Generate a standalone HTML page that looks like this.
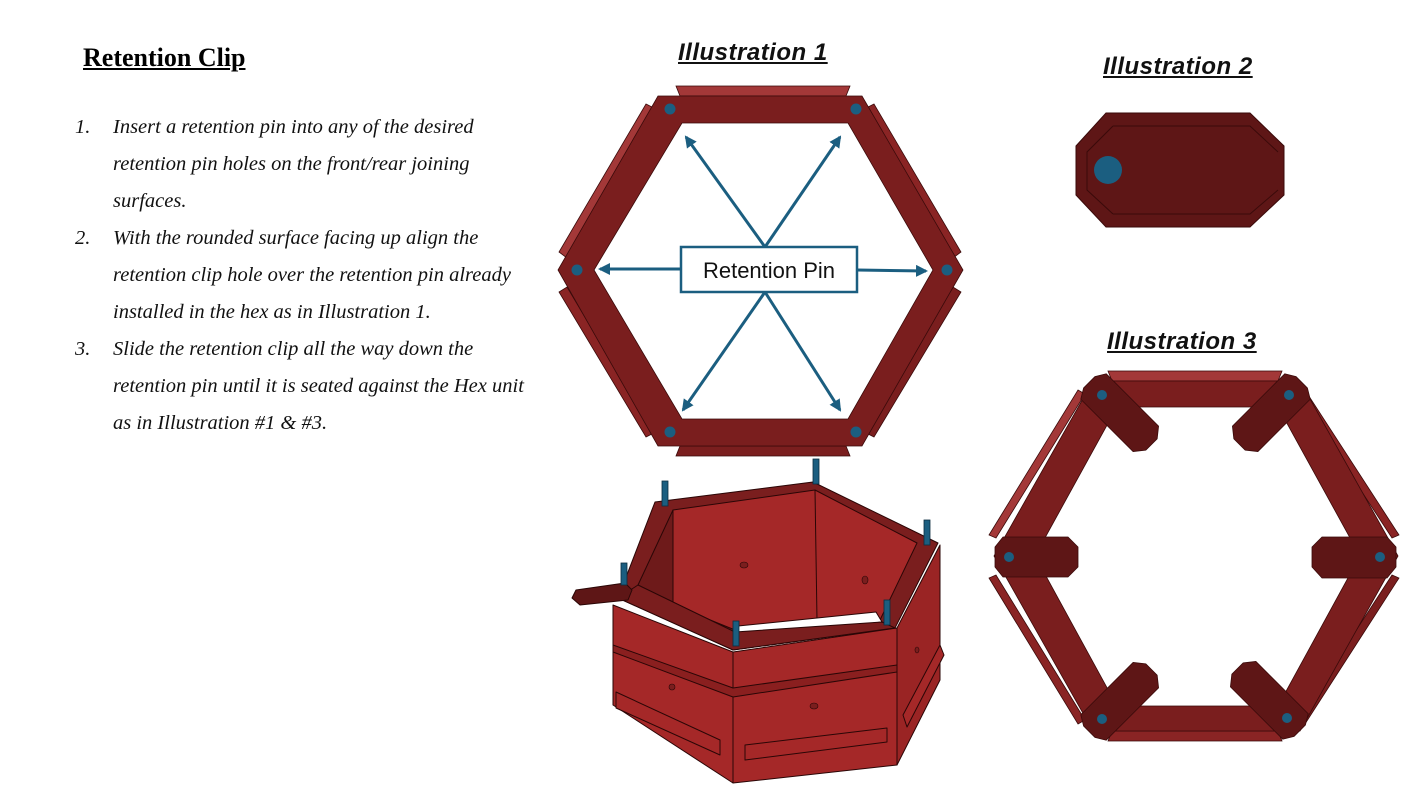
<!DOCTYPE html>
<html><head><meta charset="utf-8"><style>
html,body{margin:0;padding:0;background:#fff;}
body{width:1408px;height:791px;position:relative;overflow:hidden;}
.t{position:absolute;font-family:"Liberation Serif",serif;font-style:italic;font-size:20.5px;color:#111;white-space:nowrap;}
.h{position:absolute;font-family:"Liberation Sans",sans-serif;font-weight:bold;font-style:italic;text-decoration:underline;font-size:24px;letter-spacing:0.5px;color:#111;white-space:nowrap;}
</style></head><body>
<div style="position:absolute;left:83px;top:43px;font-family:'Liberation Serif',serif;font-weight:bold;font-size:26px;text-decoration:underline;">Retention Clip</div>
<div class="t" style="left:75px;top:116px">1.</div><div class="t" style="left:113px;top:116px">Insert a retention pin into any of the desired</div>
<div class="t" style="left:113px;top:153px">retention pin holes on the front/rear joining</div>
<div class="t" style="left:113px;top:190px">surfaces.</div>
<div class="t" style="left:75px;top:227px">2.</div><div class="t" style="left:113px;top:227px">With the rounded surface facing up align the</div>
<div class="t" style="left:113px;top:264px">retention clip hole over the retention pin already</div>
<div class="t" style="left:113px;top:301px">installed in the hex as in Illustration 1.</div>
<div class="t" style="left:75px;top:338px">3.</div><div class="t" style="left:113px;top:338px">Slide the retention clip all the way down the</div>
<div class="t" style="left:113px;top:375px">retention pin until it is seated against the Hex unit</div>
<div class="t" style="left:113px;top:412px">as in Illustration #1 &amp;  #3.</div>
<div class="h" style="left:678px;top:39px">Illustration 1</div>
<div class="h" style="left:1103px;top:53px">Illustration 2</div>
<div class="h" style="left:1107px;top:328px">Illustration 3</div>

<svg width="1408" height="791" style="position:absolute;left:0;top:0">
<defs>
<marker id="a2" markerWidth="12" markerHeight="12" refX="10" refY="6" orient="auto" markerUnits="userSpaceOnUse"><path d="M0,0 L12,6 L0,12 Z" fill="#1b5e80"/></marker></defs>
<!-- Illustration 1 -->
<g stroke="#3a0a0a" stroke-width="0.8">
<polygon points="676,86 850,86 846,96 680,96" fill="#a33838"/>
<polygon points="676,456 850,456 846,446 680,446" fill="#7a1e1e"/>
<polygon points="646,104 654,108 567,258 559,252" fill="#a33838"/>
<polygon points="874,104 866,108 953,258 961,252" fill="#8a2424"/>
<polygon points="646,437 654,433 567,287 559,292" fill="#8a2424"/>
<polygon points="874,437 866,433 953,287 961,292" fill="#7a1e1e"/>
<path fill-rule="evenodd" fill="#7a1e1e" d="M658,96 L862,96 L963,270 L862,446 L658,446 L558,270 Z M682,123 L848,123 L933,270 L848,419 L682,419 L594,270 Z"/>
</g>
<g fill="#1b5e80"><circle cx="670" cy="109" r="5.5"/><circle cx="856" cy="109" r="5.5"/><circle cx="577" cy="270" r="5.5"/><circle cx="947" cy="270" r="5.5"/><circle cx="670" cy="432" r="5.5"/><circle cx="856" cy="432" r="5.5"/></g>
<g stroke="#1b5e80" stroke-width="3" fill="none" marker-end="url(#a2)">
<line x1="765" y1="247" x2="686" y2="137"/><line x1="765" y1="247" x2="840" y2="137"/>
<line x1="765" y1="292" x2="683" y2="410"/><line x1="765" y1="292" x2="840" y2="410"/>
<line x1="681" y1="269" x2="600" y2="269"/><line x1="857" y1="270" x2="926" y2="271"/>
</g>
<rect x="681" y="247" width="176" height="45" fill="#fff" stroke="#1b5e80" stroke-width="2.5"/>
<text x="769" y="278" text-anchor="middle" font-family="Liberation Sans,sans-serif" font-size="22" fill="#111">Retention Pin</text>

<!-- Illustration 2 -->
<path d="M1106,113 L1250,113 L1284,146 L1284,195 L1250,227 L1106,227 L1076,195 L1076,146 Z" fill="#5e1616" stroke="#3a0a0a" stroke-width="1"/>
<path d="M1113,126 L1250,126 L1278,152 M1113,214 L1250,214 L1278,190 M1113,126 L1087,152 L1087,190 L1113,214" fill="none" stroke="#3a0a0a" stroke-width="1"/>
<circle cx="1108" cy="170" r="14" fill="#1b5e80"/>

<!-- Illustration 3 -->
<g stroke="#3a0a0a" stroke-width="0.8">
<polygon points="1108,371 1282,371 1278,381 1112,381" fill="#a33838"/>
<polygon points="1108,741 1282,741 1278,731 1112,731" fill="#8a2424"/>
<polygon points="1078,390 1085,394 996,538 989,535" fill="#a33838"/>
<polygon points="1305,390 1298,394 1392,538 1399,535" fill="#8a2424"/>
<polygon points="1078,724 1085,720 996,575 989,578" fill="#8a2424"/>
<polygon points="1305,724 1298,720 1392,575 1399,578" fill="#7a1e1e"/>
<path fill-rule="evenodd" fill="#7a1e1e" d="M1093,381 L1300,381 L1398,556 L1300,731 L1093,731 L994,556 Z M1117,407 L1278,407 L1360,556 L1278,706 L1117,706 L1035,556 Z"/>
</g>
<g fill="#5e1616" stroke="#3a0a0a" stroke-width="0.8">
<path d="M1003,537 L1068,537 L1078,547 L1078,567 L1068,577 L1003,577 L995,567 L995,547 Z"/>
<path d="M1322,537 L1387,537 L1396,547 L1396,567 L1387,578 L1322,578 L1312,567 L1312,547 Z"/>
<g transform="translate(1102,395) rotate(45)"><path d="M-12,-18 L62,-18 L70,-8 L70,8 L62,18 L-12,18 L-18,8 L-18,-8 Z"/></g>
<g transform="translate(1289,395) rotate(135)"><path d="M-12,-18 L62,-18 L70,-8 L70,8 L62,18 L-12,18 L-18,8 L-18,-8 Z"/></g>
<g transform="translate(1102,719) rotate(-45)"><path d="M-12,-18 L62,-18 L70,-8 L70,8 L62,18 L-12,18 L-18,8 L-18,-8 Z"/></g>
<g transform="translate(1287,718) rotate(-135)"><path d="M-12,-18 L62,-18 L70,-8 L70,8 L62,18 L-12,18 L-18,8 L-18,-8 Z"/></g>
</g>
<g fill="#1b5e80"><circle cx="1102" cy="395" r="5"/><circle cx="1289" cy="395" r="5"/><circle cx="1009" cy="557" r="5"/><circle cx="1380" cy="557" r="5"/><circle cx="1102" cy="719" r="5"/><circle cx="1287" cy="718" r="5"/></g>

<!-- 3D box -->
<g stroke="#2a0606" stroke-width="1" stroke-linejoin="round">
<polygon points="613,605 733,652 733,783 613,705" fill="#a52828"/>
<polygon points="733,652 897,628 897,765 733,783" fill="#a52828"/>
<polygon points="897,628 940,545 940,680 897,765" fill="#9a2424"/>
<polygon points="613,645 733,688 897,665 897,672 733,697 613,652" fill="#8a1f1f"/>
<polygon points="616,692 720,740 720,755 616,708" fill="#a52828"/>
<polygon points="745,745 887,728 887,742 745,760" fill="#a52828"/>
<polygon points="903,715 940,645 944,655 907,727" fill="#a52828"/>
<polygon points="655,502 813,482 938,543 895,628 733,650 618,598" fill="#7a1e1e"/>
<polygon points="673,510 815,490 917,543 880,620 735,630 673,605" fill="#a52828"/>
<polygon points="673,510 673,605 638,585" fill="#6e1a1a"/>
<line x1="815" y1="490" x2="817" y2="620"/>
<polygon points="738,626 876,612 882,622 735,638" fill="#fff"/>
<polygon points="618,598 638,585 735,632 882,622 895,628 733,650" fill="#7a1e1e"/>
<polygon points="576,590 625,583 632,590 628,600 580,605 572,598" fill="#5e1616"/>
</g>
<g fill="#1b5e80" stroke="#0c2d40" stroke-width="0.8">
<rect x="662" y="481" width="6" height="25"/><rect x="813" y="459" width="6" height="25"/>
<rect x="924" y="520" width="6" height="25"/><rect x="621" y="563" width="6" height="22"/>
<rect x="733" y="621" width="6" height="25"/><rect x="884" y="600" width="6" height="25"/>
</g>
<g fill="#7a1e1e" stroke="#2a0606" stroke-width="0.6"><ellipse cx="744" cy="565" rx="4" ry="3"/><ellipse cx="865" cy="580" rx="3" ry="4"/><ellipse cx="672" cy="687" rx="3" ry="3"/><ellipse cx="814" cy="706" rx="4" ry="3"/><ellipse cx="917" cy="650" rx="2" ry="3"/></g>
</svg>
</body></html>
